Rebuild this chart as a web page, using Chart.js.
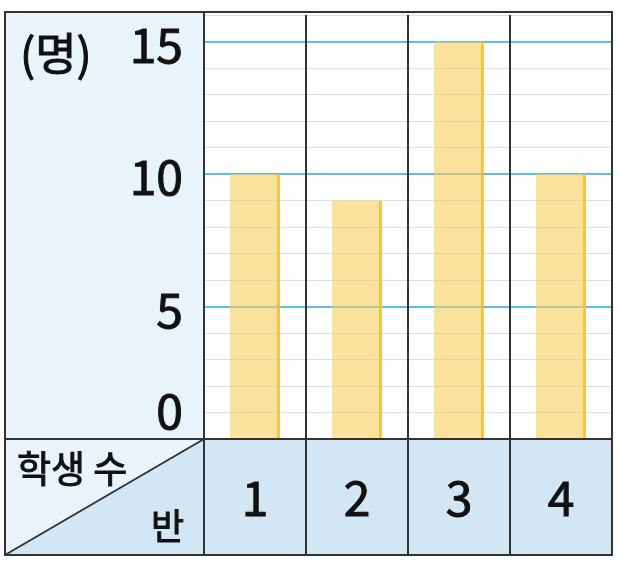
<!DOCTYPE html>
<html>
<head>
<meta charset="utf-8">
<script src="https://cdn.jsdelivr.net/npm/chart.js@4/dist/chart.umd.min.js"></script>
<style>
html,body{margin:0;padding:0;background:#fff;}
#c{display:block;}
</style>
</head>
<body>
<canvas id="c" width="620" height="572"></canvas>
<script>
const categories = ['1', '2', '3', '4'];
const students = [10, 9, 15, 10];
const yTickValues = [15, 10, 5, 0];
const yTickLabels = ['15', '10', '5', '0'];
const yUnit = '(명)';
const cornerTop = '학생 수';
const cornerBottom = '반';

const FONT = "'Noto Sans CJK KR', 'Noto Sans', sans-serif";
const LINE = '#333333';
const INK = '#111111';
const TABLE_TOP = 12;

function txt(ctx, s, x, y) {
  ctx.fillText(s, x, y);
  ctx.strokeText(s, x, y);
}

const tablePlugin = {
  id: 'table',
  beforeDraw(chart) {
    const {ctx, chartArea: a} = chart;
    const left = a.left - chart.scales.y.width;
    const bottom = a.bottom + chart.scales.x.height;
    ctx.save();
    ctx.fillStyle = '#e8f3fa';
    ctx.fillRect(left, TABLE_TOP, a.left - left, bottom - TABLE_TOP);
    ctx.fillStyle = '#d3e6f4';
    ctx.fillRect(a.left, a.bottom, a.right - a.left, bottom - a.bottom);
    ctx.beginPath();
    ctx.moveTo(a.left, a.bottom);
    ctx.lineTo(a.left, bottom);
    ctx.lineTo(left, bottom);
    ctx.closePath();
    ctx.fill();
    ctx.restore();
  },
  afterDraw(chart) {
    const {ctx, chartArea: a, scales: {x, y}} = chart;
    const left = a.left - y.width;
    const bottom = a.bottom + x.height;
    const half = (x.getPixelForValue(1) - x.getPixelForValue(0)) / 2;
    ctx.save();
    ctx.strokeStyle = LINE;
    ctx.lineWidth = 2;
    ctx.beginPath();
    for (let i = 0; i < categories.length; i++) {
      const px = x.getPixelForValue(i) - half;
      ctx.moveTo(px, i === 0 ? TABLE_TOP : a.top);
      ctx.lineTo(px, bottom);
    }
    ctx.moveTo(left, a.bottom);
    ctx.lineTo(a.right, a.bottom);
    ctx.moveTo(left, bottom);
    ctx.lineTo(a.left, a.bottom);
    ctx.stroke();
    ctx.strokeRect(left, TABLE_TOP, a.right - left, bottom - TABLE_TOP);

    ctx.fillStyle = INK;
    ctx.strokeStyle = INK;
    ctx.lineWidth = 1;
    ctx.font = '48px ' + FONT;
    ctx.textAlign = 'right';
    ctx.textBaseline = 'middle';
    yTickValues.forEach((v, i) => {
      const py = Math.min(y.getPixelForValue(v), a.bottom - 31);
      txt(ctx, yTickLabels[i], a.left - 21, py + 3);
    });
    ctx.textAlign = 'left';
    ctx.font = '45px ' + FONT;
    txt(ctx, yUnit, left + 15, y.getPixelForValue(15) + 12);
    ctx.font = '37px ' + FONT;
    txt(ctx, cornerTop, left + 12, a.bottom + 30);
    ctx.font = '36px ' + FONT;
    ctx.textAlign = 'right';
    txt(ctx, cornerBottom, a.left - 20, bottom - 29);
    ctx.restore();
  }
};

new Chart(document.getElementById('c'), {
  type: 'bar',
  data: {
    labels: categories,
    datasets: [{
      data: students,
      backgroundColor: 'rgba(247,205,90,0.6)',
      borderColor: 'rgba(246,190,45,0.9)',
      borderWidth: {top: 0, right: 3, bottom: 0, left: 0},
      borderSkipped: false,
      categoryPercentage: 1,
      barPercentage: 0.49
    }]
  },
  options: {
    responsive: false,
    animation: false,
    devicePixelRatio: 1,
    layout: {padding: {left: 5, top: 15, right: 8, bottom: 17}},
    plugins: {legend: {display: false}, tooltip: {enabled: false}},
    scales: {
      x: {
        grid: {display: false},
        border: {display: false},
        ticks: {
          color: INK,
          textStrokeColor: INK,
          textStrokeWidth: 1,
          font: {family: FONT, size: 48},
          padding: 22
        },
        afterFit(s) { s.height = 116; }
      },
      y: {
        min: 0,
        max: 16,
        border: {display: false},
        grid: {
          drawTicks: false,
          color: c => (c.tick.value % 5 === 0 ? '#5bbfea' : '#c4e6f3'),
          lineWidth: c => (c.tick.value % 5 === 0 ? 2 : 1)
        },
        ticks: {stepSize: 1, display: false},
        afterFit(s) { s.width = 199; }
      }
    }
  },
  plugins: [tablePlugin]
});
</script>
</body>
</html>
